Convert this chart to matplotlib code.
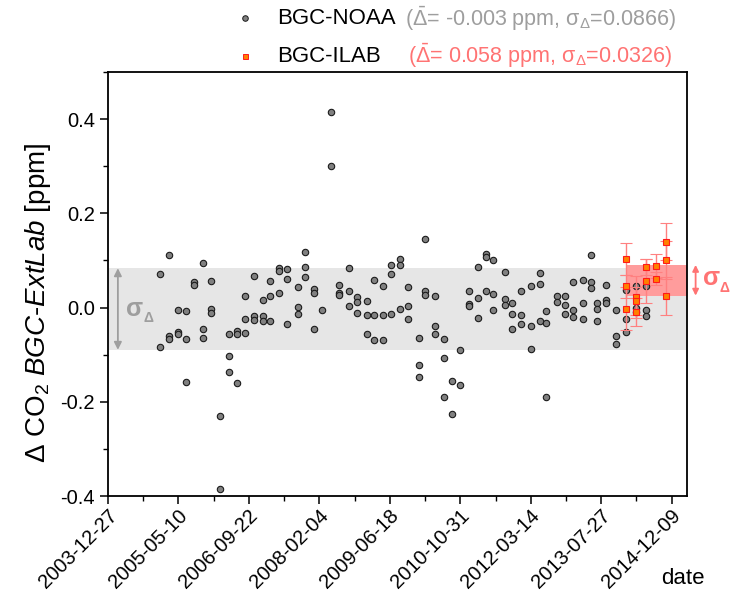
import matplotlib
matplotlib.use("Agg")
import matplotlib.pyplot as plt
import matplotlib.dates as mdates
import matplotlib.transforms as mtrans
from matplotlib.ticker import FixedLocator, MultipleLocator, FormatStrFormatter
from datetime import datetime
import numpy as np

plt.rcParams["font.family"] = "Liberation Sans"
plt.rcParams["mathtext.fontset"] = "custom"
plt.rcParams["mathtext.rm"] = "Liberation Sans"
plt.rcParams["mathtext.it"] = "Liberation Sans:italic"
plt.rcParams["mathtext.bf"] = "Liberation Sans:bold"
plt.rcParams["axes.unicode_minus"] = False

# ---------- colours ----------
GREY_TXT = "#9E9E9E"; RED_TXT = "#FF7373"
BAND_GREY = "#E6E6E6"; BAND_RED = "#FF9C9C"

# ---------- data: sampling dates (decimal year) and deltas [ppm] ----------
noaa_dates = [2005.00, 2005.18, 2005.34, 2005.50, 2005.65, 2005.84, 2005.98, 2006.16,
              2006.33, 2006.50, 2006.65, 2006.83, 2006.99, 2007.14, 2007.30, 2007.47,
              2007.68, 2007.81, 2007.99, 2008.15, 2008.31, 2008.48, 2008.66, 2008.82,
              2009.02, 2009.16, 2009.33, 2009.49, 2009.66, 2009.81, 2010.02, 2010.15,
              2010.33, 2010.52, 2010.67, 2010.82, 2010.99, 2011.17, 2011.33, 2011.47,
              2011.70, 2011.83, 2012.01, 2012.20, 2012.37, 2012.49, 2012.70, 2012.86,
              2013.02, 2013.21, 2013.37, 2013.49, 2013.66, 2013.85, 2014.05, 2014.24,
              2014.43]
noaa_delta = [[0.071, -0.084], [0.112, -0.061, -0.067], [-0.005, -0.051, -0.055],
              [-0.007, -0.066, -0.158], [0.054, 0.047], [0.095, -0.045, -0.064],
              [0.057, -0.003, -0.012], [-0.231, -0.385], [-0.055, -0.102, -0.136],
              [-0.049, -0.056, -0.159], [0.025, -0.025, -0.054], [0.067, -0.018, -0.026],
              [0.017, -0.018, -0.028], [0.057, 0.025, -0.029], [0.084, 0.078, 0.030],
              [0.081, 0.061, -0.035], [0.044, 0.002, -0.013], [0.117, 0.086, 0.066],
              [0.040, 0.031, -0.046], [-0.005], [0.415, 0.300], [0.048, 0.032, 0.026],
              [0.085, 0.036, 0.004], [0.022, 0.011, -0.011], [0.014, -0.015, -0.055],
              [0.058, -0.015, -0.069], [0.045, -0.016, -0.068], [0.091, 0.071, -0.013],
              [0.104, 0.090, -0.004], [0.044, 0.004, -0.025], [-0.065, -0.122, -0.148],
              [0.146, 0.036, 0.027], [0.025, -0.040, -0.057], [-0.067, -0.107, -0.189],
              [-0.155, -0.225], [-0.090, -0.165], [0.035, 0.008, 0.004],
              [0.086, 0.021, -0.023], [0.114, 0.107, 0.036], [0.100, 0.028, -0.005],
              [0.075, 0.018, 0.006], [0.009, -0.014, -0.046], [0.036, -0.016, -0.034],
              [0.045, -0.038, -0.088], [0.073, 0.051, -0.029], [-0.008, -0.032, -0.190],
              [0.025, 0.012], [0.025, 0.006, -0.013], [0.055, -0.006, -0.020],
              [0.058, 0.010, -0.025], [0.111, 0.055, 0.042], [0.009, -0.002, -0.028],
              [0.048, 0.016, 0.009], [-0.006, -0.061, -0.078], [0.038, -0.025, -0.051],
              [0.045, 0.000, -0.009], [0.045, -0.005, -0.018]]

ilab_dates = [2014.05, 2014.24, 2014.43, 2014.64, 2014.83]
ilab_delta = [[0.103, 0.045, -0.002], [0.023, 0.014, -0.009], [0.087, 0.057],
              [0.088, 0.061], [0.140, 0.101, 0.024]]
ilab_err = [[0.034, 0.024, 0.045], [0.045, 0.030, 0.030], [0.017, 0.047],
            [0.025, 0.014], [0.039, 0.040, 0.040]]

noaa_mean, noaa_sigma = -0.003, 0.0866
ilab_mean, ilab_sigma = 0.058, 0.0326


def to_num(yr):
    return mdates.date2num(datetime(2004, 1, 1)) + (np.asarray(yr) - 2004.0) * 365.25


def flatten(dates, vals):
    xs = [d for d, v in zip(dates, vals) for _ in v]
    ys = [y for v in vals for y in v]
    return to_num(xs), np.array(ys)


nx, ny = flatten(noaa_dates, noaa_delta)
ix, iy = flatten(ilab_dates, ilab_delta)
_, ie = flatten(ilab_dates, ilab_err)

x0 = mdates.date2num(datetime(2003, 12, 27))
xticks = x0 + 500 * np.arange(9)
xmax = x0 + 4108

fig = plt.figure(figsize=(7.3, 5.97), dpi=100)
ax = fig.add_axes([0.148, 0.169, 0.793, 0.7104])

# 1-sigma bands
ax.axhspan(noaa_mean - noaa_sigma, noaa_mean + noaa_sigma, color=BAND_GREY, lw=0, zorder=0)
ax.fill_between([ix.min(), xmax], ilab_mean - ilab_sigma, ilab_mean + ilab_sigma,
                color=BAND_RED, lw=0, zorder=1)

ax.plot(nx, ny, "o", ms=4.6, mfc="#808080", mec="#1A1A1A", mew=0.8, ls="none", zorder=3)
ax.errorbar(ix, iy, yerr=ie, fmt="s", ms=4.2, mfc="#FF8000", mec="#FF1A1A", mew=0.8,
            ecolor="#FF8080", elinewidth=1.0, capsize=4, capthick=1.0, zorder=4)

ax.set_xlim(x0, xmax)
ax.set_ylim(-0.4, 0.5)
ax.xaxis.set_major_locator(FixedLocator(xticks))
ax.xaxis.set_minor_locator(FixedLocator(xticks[:-1] + 250))
ax.xaxis.set_major_formatter(mdates.DateFormatter("%Y-%m-%d"))
ax.yaxis.set_major_locator(MultipleLocator(0.2))
ax.yaxis.set_minor_locator(MultipleLocator(0.1))
ax.yaxis.set_major_formatter(FormatStrFormatter("%.1f"))
ax.tick_params(which="major", direction="out", length=6, width=1.1, labelsize=14.5)
ax.tick_params(axis="x", which="major", pad=4)
ax.tick_params(which="minor", direction="out", length=3.5, width=1.0)
nudge = mtrans.ScaledTranslation(6 / 100, -3 / 100, fig.dpi_scale_trans)
for lab in ax.get_xticklabels():
    lab.set_rotation(45); lab.set_ha("right"); lab.set_va("center")
    lab.set_rotation_mode("anchor")
    lab.set_transform(lab.get_transform() + nudge)
for s in ax.spines.values():
    s.set_linewidth(1.3)


def sigma_label(x, y, color):
    # upright bold sigma followed by a small Delta subscript
    t = ax.text(x, y, "σ", transform=ax.get_yaxis_transform(), color=color,
                fontsize=18, fontweight="bold", ha="left", va="center", clip_on=False)
    ax.annotate("Δ", xy=(1.0, 0.12), xycoords=t, color=color, fontsize=10,
                fontweight="bold", ha="left", va="center", annotation_clip=False)


# sigma arrows
ax.annotate("", xy=(0.017, noaa_mean + noaa_sigma), xytext=(0.017, noaa_mean - noaa_sigma),
            xycoords=("axes fraction", "data"), textcoords=("axes fraction", "data"),
            arrowprops=dict(arrowstyle="<|-|>", color=GREY_TXT, lw=1.3,
                            shrinkA=0, shrinkB=0, mutation_scale=11))
sigma_label(0.031, noaa_mean, GREY_TXT)
ax.annotate("", xy=(1.015, ilab_mean + ilab_sigma), xytext=(1.015, ilab_mean - ilab_sigma),
            xycoords=("axes fraction", "data"), textcoords=("axes fraction", "data"),
            arrowprops=dict(arrowstyle="<|-|>", color=RED_TXT, lw=1.3,
                            shrinkA=0, shrinkB=0, mutation_scale=9), annotation_clip=False)
sigma_label(1.027, ilab_mean + 0.004, RED_TXT)

# axis labels
fig.text(38 / 730, 1 - 303 / 597, r"$\Delta$ CO$_2$ $\it{BGC}$-$\it{ExtLab}$ [ppm]",
         rotation=90, ha="center", va="center", fontsize=20)
fig.text(683 / 730, 1 - 578 / 597, "date", ha="center", va="center", fontsize=16)


# legend drawn above the frame
def px(x, y):
    return x / 730, 1 - y / 597


fig.lines.append(plt.Line2D([px(245, 18)[0]], [px(245, 18)[1]], marker="o", ms=4,
                            mfc="#808080", mec="#1A1A1A", mew=0.7, transform=fig.transFigure))
fig.lines.append(plt.Line2D([px(245, 56)[0]], [px(245, 56)[1]], marker="s", ms=3.6,
                            mfc="#FF8000", mec="#FF1A1A", mew=0.7, transform=fig.transFigure))
fig.text(*px(277, 19), "BGC-NOAA", fontsize=16, va="center")
fig.text(*px(405, 19), r"($\bar{\Delta}$= -0.003 ppm, $\mathrm{\sigma}_\Delta$=0.0866)",
         fontsize=15.5, va="center", color=GREY_TXT)
fig.text(*px(277, 56), "BGC-ILAB", fontsize=16, va="center")
fig.text(*px(408, 56), r"($\bar{\Delta}$= 0.058 ppm, $\mathrm{\sigma}_\Delta$=0.0326)",
         fontsize=15.5, va="center", color=RED_TXT)

fig.savefig("out.png", dpi=100, facecolor="white")
